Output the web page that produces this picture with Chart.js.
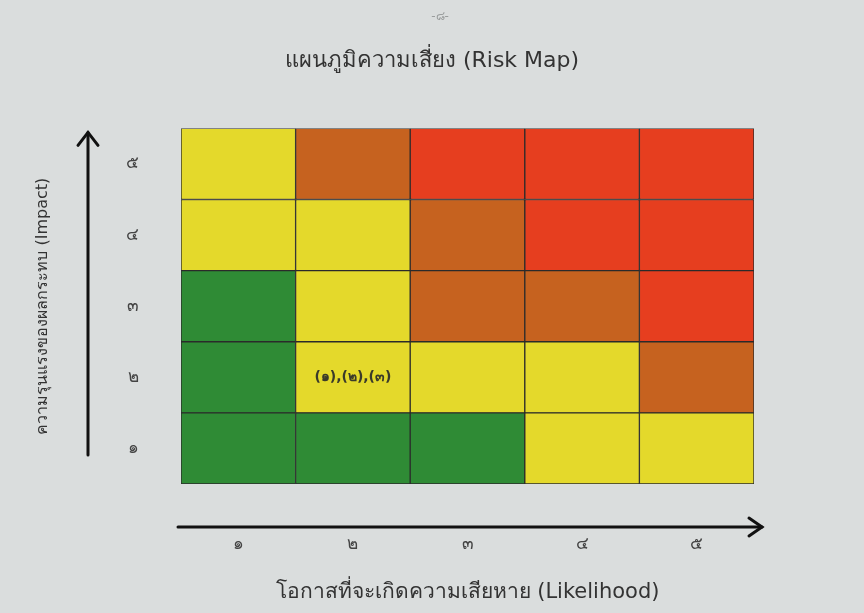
<!DOCTYPE html>
<html>
<head>
<meta charset="utf-8">
<script src="https://cdn.jsdelivr.net/npm/chart.js@4.4.1/dist/chart.umd.min.js"></script>
<style>
  html, body { margin: 0; padding: 0; background: #dadddd; }
  #wrap { width: 864px; height: 613px; position: relative; }
</style>
</head>
<body>
<div id="wrap"><canvas id="riskMap" width="864" height="613"></canvas></div>
<script>
// likelihood columns (x) and impact rows (y), Thai numerals
const likelihood = ['๑', '๒', '๓', '๔', '๕']
const impact = ['๑', '๒', '๓', '๔', '๕']

// risk level of each cell, one list per impact row, by likelihood
const impact1 = ['low', 'low', 'low', 'medium', 'medium']
const impact2 = ['low', 'medium', 'medium', 'medium', 'high']
const impact3 = ['low', 'medium', 'high', 'high', 'veryHigh']
const impact4 = ['medium', 'medium', 'high', 'veryHigh', 'veryHigh']
const impact5 = ['medium', 'high', 'veryHigh', 'veryHigh', 'veryHigh']

// risk items placed in cells of the impact ๒ row
const notes2 = ['', '(๑),(๒),(๓)', '', '', '']

const rows = [impact1, impact2, impact3, impact4, impact5]
const notes = [[], notes2, [], [], []]

const levelColor = {
  low: '#2f8b35',
  medium: '#e4d92b',
  high: '#c6621f',
  veryHigh: '#e63e1f'
}

const font = "'DejaVu Sans', 'Noto Sans', sans-serif"

const datasets = rows.map((row, i) => ({
  label: 'Impact ' + impact[i],
  data: row.map(() => 1),
  backgroundColor: row.map(l => levelColor[l]),
  borderColor: '#2b2b2b',
  borderWidth: 1,
  borderSkipped: false,
  barPercentage: 1,
  categoryPercentage: 1
}))

const extras = {
  id: 'extras',
  afterDatasetsDraw(chart) {
    const { ctx } = chart
    // cell notes
    ctx.save()
    ctx.fillStyle = '#3a3a2a'
    ctx.font = "bold 14px " + font
    ctx.textAlign = 'center'
    ctx.textBaseline = 'middle'
    notes.forEach((row, i) => {
      const meta = chart.getDatasetMeta(i)
      row.forEach((txt, j) => {
        if (!txt) return
        const bar = meta.data[j]
        ctx.fillText(txt, bar.x, (bar.y + bar.base) / 2)
      })
    })
    ctx.restore()
  },
  afterDraw(chart) {
    const { ctx, chartArea } = chart
    ctx.save()
    ctx.strokeStyle = '#111'
    ctx.lineWidth = 3
    ctx.lineCap = 'round'
    ctx.lineJoin = 'miter'
    // impact arrow
    const ax = chartArea.left - 93
    const top = chartArea.top + 4
    ctx.beginPath()
    ctx.moveTo(ax, chartArea.bottom - 29)
    ctx.lineTo(ax, top)
    ctx.stroke()
    ctx.beginPath()
    ctx.moveTo(ax - 10, top + 13)
    ctx.lineTo(ax, top)
    ctx.lineTo(ax + 10, top + 13)
    ctx.stroke()
    // likelihood arrow
    const ay = chartArea.bottom + 43
    const right = chartArea.right + 8
    ctx.beginPath()
    ctx.moveTo(chartArea.left - 3, ay)
    ctx.lineTo(right, ay)
    ctx.stroke()
    ctx.beginPath()
    ctx.moveTo(right - 13, ay - 9)
    ctx.lineTo(right, ay)
    ctx.lineTo(right - 13, ay + 9)
    ctx.stroke()
    // page number
    ctx.fillStyle = '#9a9d9d'
    ctx.font = "12px " + font
    ctx.textAlign = 'center'
    ctx.fillText('-๘-', 440, 20)
    ctx.restore()
  }
}

new Chart(document.getElementById('riskMap'), {
  type: 'bar',
  data: { labels: likelihood, datasets: datasets },
  plugins: [extras],
  options: {
    responsive: false,
    animation: false,
    layout: { padding: { top: 0, left: 0, right: 0, bottom: 6 } },
    plugins: {
      legend: { display: false },
      tooltip: { enabled: false },
      title: {
        display: true,
        text: 'แผนภูมิความเสี่ยง (Risk Map)',
        color: '#333',
        font: { family: font, size: 22, weight: 'normal' },
        padding: { top: 48, bottom: 54 }
      }
    },
    scales: {
      x: {
        stacked: true,
        grid: { display: false, drawTicks: false },
        border: { display: false },
        ticks: { color: '#444', font: { family: font, size: 17 }, padding: 50 },
        title: {
          display: true,
          text: 'โอกาสที่จะเกิดความเสียหาย (Likelihood)',
          color: '#333',
          font: { family: font, size: 21 },
          padding: { top: 24, bottom: 2 }
        },
        afterFit(scale) { scale.height = 123 }
      },
      y: {
        stacked: true,
        min: 0,
        max: 5,
        display: false
      },
      yImpact: {
        type: 'category',
        labels: impact.slice().reverse(),
        position: 'left',
        offset: true,
        grid: { display: false, drawTicks: false },
        border: { display: false },
        ticks: { color: '#444', font: { family: font, size: 17 }, padding: 42 },
        title: {
          display: true,
          text: 'ความรุนแรงของผลกระทบ (Impact)',
          color: '#333',
          font: { family: font, size: 16 },
          padding: { top: 33, bottom: 0 }
        },
        afterFit(scale) { scale.width = 181 }
      },
      yRight: {
        type: 'linear',
        position: 'right',
        grid: { display: false },
        border: { display: false },
        ticks: { display: false },
        afterFit(scale) { scale.width = 110 }
      }
    }
  }
})
</script>
</body>
</html>
